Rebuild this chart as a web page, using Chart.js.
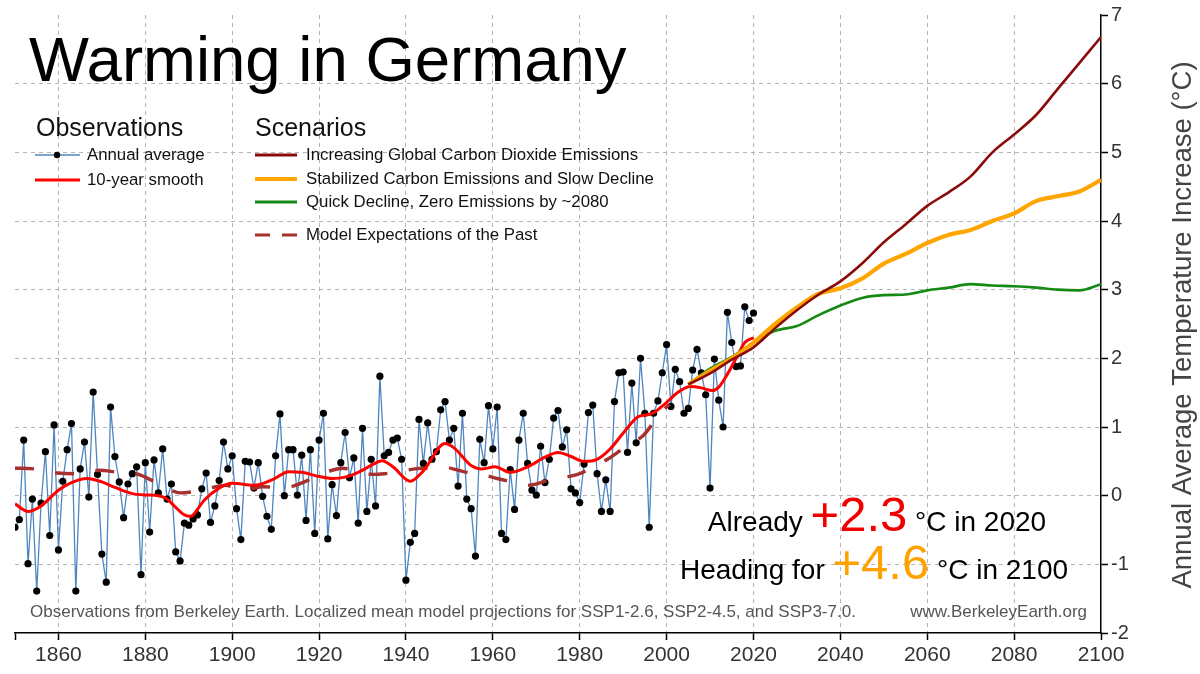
<!DOCTYPE html>
<html>
<head>
<meta charset="utf-8">
<script src="https://cdn.jsdelivr.net/npm/chart.js@4.4.1/dist/chart.umd.min.js"></script>
<style>
  html, body { margin: 0; padding: 0; background: #fff; }
</style>
</head>
<body>
<canvas id="chart" width="1200" height="674"></canvas>
<script>
const obsStartYear = 1850;
// annual average anomaly, 1850 .. 2020 (°C)
const annualAvg = [
  -0.46, -0.35, 0.81, -0.99, -0.05, -1.39, -0.11, 0.64, -0.58, 1.03,
  -0.79, 0.21, 0.67, 1.05, -1.39, 0.39, 0.78, -0.02, 1.51, 0.31,
  -0.85, -1.26, 1.29, 0.57, 0.20, -0.32, 0.17, 0.32, 0.42, -1.15,
  0.48, -0.53, 0.52, 0.04, 0.68, -0.05, 0.17, -0.82, -0.95, -0.40,
  -0.43, -0.34, -0.28, 0.10, 0.33, -0.39, -0.15, 0.22, 0.78, 0.39,
  0.58, -0.19, -0.64, 0.50, 0.49, 0.11, 0.48, -0.01, -0.30, -0.49,
  0.58, 1.19, 0.00, 0.67, 0.67, 0.01, 0.59, -0.36, 0.67, -0.55,
  0.81, 1.20, -0.63, 0.16, -0.29, 0.48, 0.92, 0.26, 0.55, -0.40,
  0.98, -0.23, 0.53, -0.15, 1.74, 0.58, 0.63, 0.81, 0.84, 0.53,
  -1.23, -0.68, -0.55, 1.11, 0.47, 1.06, 0.53, 0.64, 1.25, 1.37,
  0.81, 0.98, 0.14, 1.20, -0.05, -0.19, -0.88, 0.82, 0.48, 1.31,
  0.68, 1.29, -0.55, -0.64, 0.38, -0.20, 0.81, 1.20, 0.47, 0.08,
  0.01, 0.72, 0.19, 0.53, 1.13, 1.24, 0.71, 0.96, 0.10, 0.04,
  -0.10, 0.46, 1.21, 1.32, 0.32, -0.23, 0.23, -0.23, 1.37, 1.79,
  1.80, 0.63, 1.64, 0.77, 2.00, 1.20, -0.46, 1.20, 1.38, 1.79,
  2.20, 1.30, 1.84, 1.66, 1.20, 1.27, 1.83, 2.13, 1.79, 1.47,
  0.11, 1.99, 1.39, 1.00, 2.67, 2.23, 1.88, 1.89, 2.75, 2.55,
  2.66
];

// 10-year smooth
const smoothYears = [1850, 1853, 1856, 1860, 1863, 1866.5, 1870, 1873, 1877, 1880,
  1883, 1885, 1887, 1889, 1890.5, 1892, 1893.5, 1897, 1900, 1905,
  1909.5, 1913, 1916, 1920, 1923, 1926, 1929, 1932, 1934.5, 1937,
  1941, 1944, 1949, 1951, 1955, 1957.5, 1960.5, 1964, 1968, 1972,
  1975, 1978, 1981, 1984, 1987, 1990.5, 1993.5, 1996.5, 1999.5, 2002.5,
  2005.5, 2008, 2010.5, 2012, 2014, 2016.5, 2018, 2020];
const smoothVals = [-0.12, -0.23, -0.15, 0.08, 0.19, 0.25, 0.20, 0.12, 0.03, 0.01,
  0.00, -0.05, -0.17, -0.28, -0.30, -0.20, -0.07, 0.11, 0.18, 0.15,
  0.24, 0.35, 0.34, 0.28, 0.25, 0.27, 0.34, 0.44, 0.51, 0.42,
  0.21, 0.36, 0.76, 0.70, 0.44, 0.39, 0.42, 0.34, 0.42, 0.56,
  0.63, 0.57, 0.50, 0.53, 0.68, 0.95, 1.15, 1.19, 1.33, 1.50,
  1.59, 1.57, 1.53, 1.58, 1.77, 2.06, 2.23, 2.30];

// model expectations of the past (dashed)
const modelYears = [1850, 1854.5, 1857, 1859.7, 1864, 1867, 1869.4, 1873.8, 1876.5, 1878.9,
  1883, 1885.5, 1888, 1892, 1895.5, 1898.5, 1902, 1904.5, 1907, 1911.3,
  1914, 1916.2, 1920.4, 1923, 1925.4, 1930, 1932.5, 1935, 1939.4, 1942,
  1944.2, 1949.2, 1951.5, 1954, 1958.6, 1961, 1963.6, 1968, 1970.5, 1973,
  1977.6, 1980, 1982.2, 1986.4, 1988.5, 1990.6, 1994.5, 1996, 1997.6, 2000.6];
const modelVals = [0.40, 0.39, 0.35, 0.33, 0.32, 0.35, 0.37, 0.34, 0.33, 0.30,
  0.17, 0.09, 0.04, 0.07, 0.12, 0.15, 0.08, 0.10, 0.13, 0.12,
  0.14, 0.19, 0.31, 0.37, 0.40, 0.33, 0.31, 0.32, 0.36, 0.39,
  0.40, 0.41, 0.38, 0.34, 0.29, 0.25, 0.21, 0.15, 0.18, 0.23,
  0.28, 0.32, 0.39, 0.53, 0.62, 0.72, 0.87, 0.98, 1.13, 1.33];

// scenario projections
const scenYears = [2005, 2010, 2015, 2020, 2025, 2030, 2035, 2040, 2045, 2050,
  2055, 2060, 2065, 2070, 2075, 2080, 2085, 2090, 2095, 2100];
const ssp370 = [1.62, 1.78, 1.98, 2.16, 2.44, 2.70, 2.93, 3.12, 3.38, 3.69,
  3.95, 4.22, 4.42, 4.65, 5.00, 5.26, 5.54, 5.92, 6.30, 6.68];
const ssp245 = [1.62, 1.82, 2.00, 2.23, 2.50, 2.74, 2.94, 3.02, 3.16, 3.38,
  3.52, 3.68, 3.80, 3.87, 4.00, 4.11, 4.29, 4.36, 4.43, 4.60];
const ssp126 = [1.62, 1.85, 2.02, 2.23, 2.40, 2.47, 2.63, 2.77, 2.88, 2.92,
  2.93, 2.99, 3.03, 3.08, 3.06, 3.05, 3.03, 3.00, 2.99, 3.08];

const xTicks = [1850, 1860, 1880, 1900, 1920, 1940, 1960, 1980, 2000, 2020, 2040, 2060, 2080, 2100];
const yTicks = [-2, -1, 0, 1, 2, 3, 4, 5, 6, 7];

const FONT = "'Liberation Sans', Arial, Helvetica, sans-serif";
const GRID = '#b4b4b4';
const C_OBS = '#4f86bf', C_SMOOTH = '#ff0000', C_MODEL = '#a8302e';
const C_370 = '#8b0a0a', C_245 = '#ffa500', C_126 = '#148a14';

const pairs = (xs, ys) => xs.map((x, i) => ({ x: x, y: ys[i] }));

// --- text overlay: title, legend, notes, axis title ---
const overlay = {
  id: 'overlay',
  afterDraw(chart) {
    const ctx = chart.ctx;
    ctx.save();
    ctx.textBaseline = 'alphabetic';
    ctx.textAlign = 'left';

    ctx.fillStyle = '#000';
    ctx.font = '63.5px ' + FONT;
    ctx.fillText('Warming in Germany', 29, 81);

    // legend headers
    ctx.fillStyle = '#111';
    ctx.font = '25px ' + FONT;
    ctx.fillText('Observations', 36, 136);
    ctx.fillText('Scenarios', 255, 136);

    const line = (x1, x2, y, color, w, dash) => {
      ctx.beginPath();
      ctx.setLineDash(dash || []);
      ctx.strokeStyle = color;
      ctx.lineWidth = w;
      ctx.moveTo(x1, y); ctx.lineTo(x2, y);
      ctx.stroke();
      ctx.setLineDash([]);
    };
    const label = (t, x, y) => {
      ctx.fillStyle = '#111';
      ctx.font = '16.8px ' + FONT;
      ctx.textBaseline = 'middle';
      ctx.fillText(t, x, y);
      ctx.textBaseline = 'alphabetic';
    };

    line(35, 80, 155, C_OBS, 1.5);
    ctx.beginPath(); ctx.fillStyle = '#000'; ctx.arc(57, 155, 3.2, 0, Math.PI * 2); ctx.fill();
    label('Annual average', 87, 155);
    line(35, 80, 180, C_SMOOTH, 3);
    label('10-year smooth', 87, 180);

    line(255, 297, 155, C_370, 3);
    label('Increasing Global Carbon Dioxide Emissions', 306, 155);
    line(255, 297, 179, C_245, 4);
    label('Stabilized Carbon Emissions and Slow Decline', 306, 179);
    line(255, 297, 202, C_126, 3);
    label('Quick Decline, Zero Emissions by ~2080', 306, 202);
    line(255, 297, 235, C_MODEL, 3, [15, 12]);
    label('Model Expectations of the Past', 306, 235);

    // headline numbers
    const runs = (parts, cx, y) => {
      let total = 0;
      parts.forEach(p => { ctx.font = p.size + 'px ' + FONT; p.w = ctx.measureText(p.t).width; total += p.w; });
      let x = cx - total / 2;
      parts.forEach(p => {
        ctx.font = p.size + 'px ' + FONT;
        ctx.fillStyle = p.color;
        ctx.fillText(p.t, x, y);
        x += p.w;
      });
    };
    runs([{ t: 'Already ', size: 28, color: '#000' },
          { t: '+2.3', size: 49, color: '#f20000' },
          { t: ' °C in 2020', size: 28, color: '#000' }], 877, 531);
    runs([{ t: 'Heading for ', size: 28, color: '#000' },
          { t: '+4.6', size: 49, color: '#ffa200' },
          { t: ' °C in 2100', size: 28, color: '#000' }], 874, 579);

    // footnotes
    ctx.fillStyle = '#555';
    ctx.font = '17px ' + FONT;
    ctx.fillText('Observations from Berkeley Earth. Localized mean model projections for SSP1-2.6, SSP2-4.5, and SSP3-7.0.', 30, 617);
    ctx.textAlign = 'right';
    ctx.fillText('www.BerkeleyEarth.org', 1087, 617);

    // right axis title, reading bottom to top
    ctx.translate(1183, 325);
    ctx.rotate(-Math.PI / 2);
    ctx.textAlign = 'center';
    ctx.textBaseline = 'middle';
    ctx.fillStyle = '#444';
    ctx.font = '27.5px ' + FONT;
    ctx.fillText('Annual Average Temperature Increase (°C)', 0, 0);
    ctx.restore();
  }
};

new Chart(document.getElementById('chart'), {
  type: 'line',
  data: {
    datasets: [
      { data: pairs(scenYears, ssp370), borderColor: C_370, borderWidth: 2.6, pointRadius: 0, cubicInterpolationMode: 'monotone' },
      { data: pairs(scenYears, ssp245), borderColor: C_245, borderWidth: 4.2, pointRadius: 0, cubicInterpolationMode: 'monotone' },
      { data: pairs(scenYears, ssp126), borderColor: C_126, borderWidth: 2.6, pointRadius: 0, cubicInterpolationMode: 'monotone' },
      { data: pairs(smoothYears, smoothVals), borderColor: C_SMOOTH, borderWidth: 3, pointRadius: 0, cubicInterpolationMode: 'monotone' },
      { data: pairs(modelYears, modelVals), borderColor: C_MODEL, borderWidth: 3.4, borderDash: [19, 21.5], pointRadius: 0, cubicInterpolationMode: 'monotone' },
      { data: annualAvg.map((v, i) => ({ x: obsStartYear + i, y: v })), borderColor: C_OBS, borderWidth: 1.3,
        pointRadius: 3.6, pointBackgroundColor: '#000', pointBorderWidth: 0, tension: 0 }
    ]
  },
  options: {
    responsive: false,
    animation: false,
    events: [],
    layout: { padding: { left: 15, top: 15, right: 0, bottom: 0 } },
    plugins: { legend: { display: false }, tooltip: { enabled: false } },
    scales: {
      x: {
        type: 'linear', min: 1850, max: 2100,
        afterBuildTicks: s => { s.ticks = xTicks.map(v => ({ value: v })); },
        afterFit: s => { s.height = 41; },
        grid: {
          color: c => (c.tick && (c.tick.value === 1850 || c.tick.value === 2100)) ? 'rgba(0,0,0,0)' : GRID,
          lineWidth: 1, tickColor: '#000', tickLength: 7, tickWidth: 1.5, borderDash: [4, 4]
        },
        border: { color: '#000', width: 1.5, dash: [4, 4] },
        ticks: {
          autoSkip: false, maxRotation: 0, padding: 3, color: '#333',
          font: { size: 21, family: FONT },
          callback: v => v === 1850 ? '' : String(v)
        }
      },
      y: {
        type: 'linear', position: 'right', min: -2, max: 7,
        afterBuildTicks: s => { s.ticks = yTicks.map(v => ({ value: v })); },
        afterFit: s => { s.width = 99; },
        grid: {
          color: c => (c.tick && (c.tick.value === 7 || c.tick.value === -2)) ? 'rgba(0,0,0,0)' : GRID,
          lineWidth: 1, tickColor: '#000', tickLength: 7, tickWidth: 1.5, borderDash: [4, 4]
        },
        border: { color: '#000', width: 1.5, dash: [4, 4] },
        ticks: { padding: 3, color: '#333', font: { size: 20, family: FONT } }
      }
    }
  },
  plugins: [overlay]
});
</script>
</body>
</html>
